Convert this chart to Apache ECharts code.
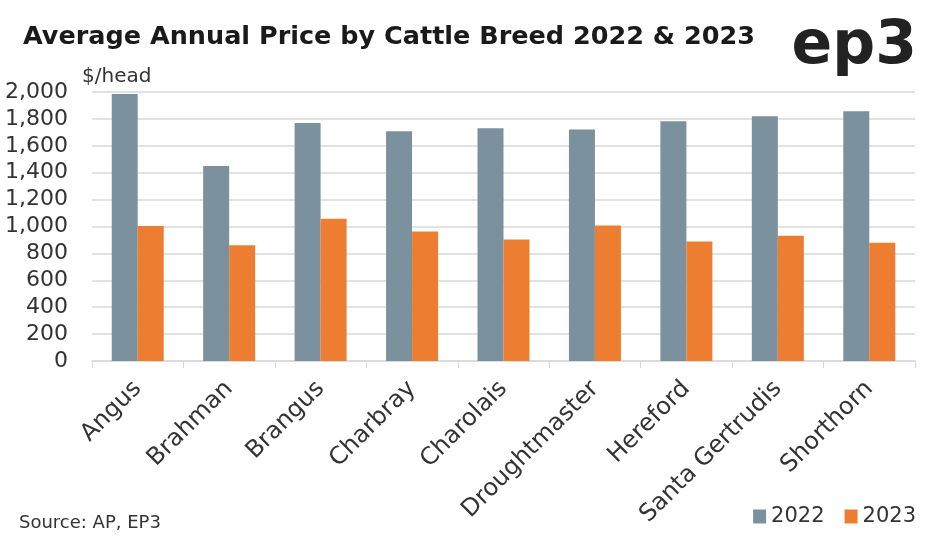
<!DOCTYPE html>
<html><head><meta charset="utf-8">
<script src="https://cdn.jsdelivr.net/npm/echarts@6/dist/echarts.min.js"></script>
<style>html,body{margin:0;padding:0;background:#fff}#c{width:943px;height:541px}</style>
</head><body><div id="c"></div>
<script>
const categories = ['Angus','Brahman','Brangus','Charbray','Charolais','Droughtmaster','Hereford','Santa Gertrudis','Shorthorn'];
const values2022 = [1985,1450,1770,1708,1730,1722,1782,1820,1857];
const values2023 = [1003,860,1058,962,903,1007,888,932,880];
const seriesNames = ['2022','2023'];
const yTicks = [0,200,400,600,800,1000,1200,1400,1600,1800,2000];

const chart = echarts.init(document.getElementById('c'));
const font = '"DejaVu Sans", sans-serif';
chart.setOption({
  animation:false,
  textStyle:{fontFamily:font},
  title:[
    {text:'Average Annual Price by Cattle Breed 2022 & 2023',left:18,top:19,textStyle:{fontSize:25.5,fontWeight:'bold',color:'#1a1a1a',fontFamily:font}},
    {text:'ep3',right:21,top:12,textStyle:{fontSize:60,fontWeight:'bold',color:'#222',fontFamily:font}},
    {text:'Source: AP, EP3',left:14,top:509,textStyle:{fontSize:18,fontWeight:'normal',color:'#333',fontFamily:font}}
  ],
  legend:{data:seriesNames,right:22,top:501,itemWidth:13,itemHeight:14,itemGap:20,icon:'rect',
    textStyle:{fontSize:21,color:'#333',fontFamily:font}},
  grid:{left:92,right:28,top:92,bottom:180},
  xAxis:{type:'category',data:categories,
    axisLine:{lineStyle:{color:'#d9d9d9',width:1.5}},
    axisTick:{show:true,length:7,lineStyle:{color:'#d9d9d9'}},
    axisLabel:{rotate:45,fontSize:24,color:'#333',margin:24,interval:0,fontFamily:font}},
  yAxis:{type:'value',min:0,max:2000,interval:200,
    name:'$/head',nameLocation:'end',nameGap:5,nameTextStyle:{fontSize:20,color:'#333',align:'left',padding:[0,0,0,-10]},
    axisLabel:{fontSize:22,color:'#333',margin:24,formatter:v=>v.toLocaleString('en-US')},
    splitLine:{lineStyle:{color:'#d9d9d9',width:1.5}},
    axisLine:{show:false},axisTick:{show:false}},
  series:[
    {name:seriesNames[0],type:'bar',data:values2022,barWidth:26,barGap:'0%',itemStyle:{color:'#7B919D'}},
    {name:seriesNames[1],type:'bar',data:values2023,barWidth:26,itemStyle:{color:'#ED7D31'}}
  ]
});
</script></body></html>
